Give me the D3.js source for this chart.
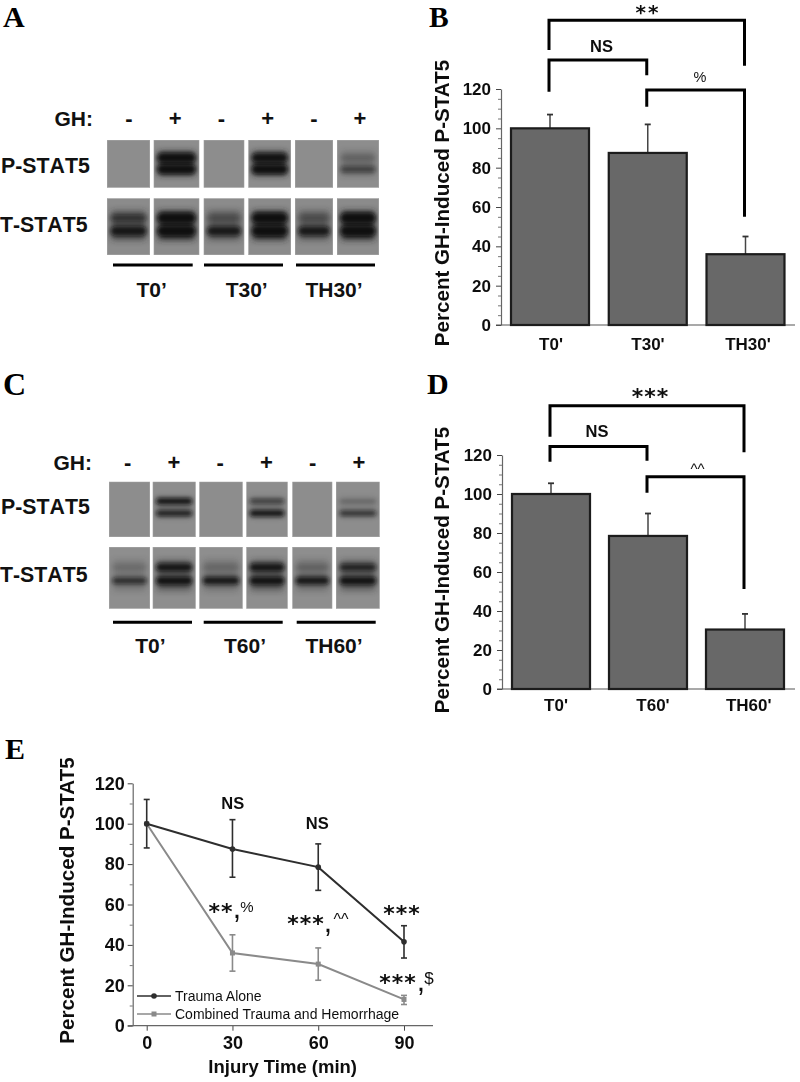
<!DOCTYPE html>
<html>
<head>
<meta charset="utf-8">
<script src="https://cdnjs.cloudflare.com/ajax/libs/d3/7.8.5/d3.min.js"></script>
<style>
  body { margin: 0; background: #fff; }
  text { font-family: "Liberation Sans", Arial, sans-serif; fill: #111; }
  .letter { font-family: "Liberation Serif", serif; font-weight: bold; fill: #000; }
  .star { font-family: "DejaVu Sans", sans-serif; font-weight: bold; }
  .nokern { font-kerning: none; }
</style>
</head>
<body>
<svg id="fig" width="800" height="1082"></svg>
<script>
// bar panels
const groupsB = ["T0'", "T30'", "TH30'"];
const valuesB = [100, 87.5, 36];
const upperB = [107, 102, 45];
const groupsD = ["T0'", "T60'", "TH60'"];
const valuesD = [100, 78.5, 30.5];
const upperD = [105.5, 90, 38.5];
const yTicks = [0, 20, 40, 60, 80, 100, 120];

// line panel
const minutes = [0, 30, 60, 90];
const traumaAlone = [100, 87.5, 78.5, 41.5];
const traumaUpper = [112, 102, 90, 49.5];
const traumaLower = [88, 73.5, 67, 33.5];
const combined = [100, 36, 30.5, 13];
const combinedUpper = [100, 45, 38.5, 15];
const combinedLower = [100, 27, 22.5, 10.5];

// blot band darkness per lane, 0 to 1
const laneSigns = ["-", "+", "-", "+", "-", "+"];
const pUpperA = [0, 1, 0, 0.95, 0, 0.18];
const pLowerA = [0, 1, 0, 1, 0, 0.55];
const tUpperA = [0.5, 1, 0.25, 1, 0.25, 1];
const tLowerA = [0.9, 1, 0.9, 1, 0.9, 1];
const pUpperC = [0, 1, 0, 0.65, 0, 0.3];
const pLowerC = [0, 0.9, 0, 1, 0, 0.75];
const tUpperC = [0.15, 0.95, 0.15, 0.95, 0.2, 0.8];
const tLowerC = [0.75, 1, 0.95, 1, 0.95, 1];
const groupsA = ["T0’", "T30’", "TH30’"];
const groupsC = ["T0’", "T60’", "TH60’"];

const svg = d3.select("#fig");
const defs = svg.append("defs");
defs.append("filter").attr("id", "soft").attr("x", "-30%").attr("width", "160%")
  .attr("y", "-150%").attr("height", "400%")
  .append("feGaussianBlur").attr("stdDeviation", 1.9);
defs.append("filter").attr("id", "smear").attr("x", "-30%").attr("width", "160%")
  .attr("y", "-80%").attr("height", "260%")
  .append("feGaussianBlur").attr("stdDeviation", 3);
// the source is a soft scan, everything gets a little of it
defs.append("filter").attr("id", "scan").attr("filterUnits", "userSpaceOnUse")
  .attr("x", 0).attr("y", 0).attr("width", 800).attr("height", 1082)
  .append("feGaussianBlur").attr("stdDeviation", 0.35);

function letter(t, x, y, size) {
  svg.append("text").attr("class", "letter").attr("x", x).attr("y", y).attr("font-size", size).text(t);
}
letter("A", 3, 27, 30);
letter("B", 429, 26.5, 29.5);
letter("C", 3, 394.5, 32);
letter("D", 427, 394, 30);
letter("E", 5, 759, 30);

function label(g, t, x, y, size, anchor, bold) {
  return g.append("text").attr("x", x).attr("y", y)
    .attr("text-anchor", anchor || "middle")
    .attr("font-size", size)
    .attr("font-weight", bold === false ? "normal" : "bold")
    .text(t);
}
function stars(g, t, x, y, size, sp) {
  return g.append("text").attr("class", "star").attr("x", x).attr("y", y)
    .attr("text-anchor", "middle").attr("font-size", size)
    .attr("letter-spacing", sp).text(t);
}

// ---- western blots ----
function blot(cfg) {
  const g = svg.append("g");
  const laneIdx = laneSigns.map((d, i) => i);
  const x0 = d3.scaleOrdinal().domain(laneIdx).range(cfg.left);
  const x1 = d3.scaleOrdinal().domain(laneIdx).range(cfg.right);
  const signX = d3.scalePoint().domain(laneIdx).range(cfg.signRange);

  label(g, "GH:", cfg.ghX, cfg.ghY, 21, "end");
  g.selectAll(".sign").data(laneSigns).enter().append("text")
    .attr("x", (d, i) => signX(i))
    .attr("y", cfg.ghY)
    .attr("text-anchor", "middle")
    .attr("font-size", 22).attr("font-weight", "bold")
    .text((d) => d);

  cfg.rows.forEach((row, r) => {
    label(g, row.name, row.labelX, row.labelY, 21.3, "start").attr("class", "nokern");
    laneSigns.forEach((s, i) => {
      const clipId = `clip${cfg.id}${r}${i}`;
      const w = x1(i) - x0(i);
      defs.append("clipPath").attr("id", clipId).append("rect")
        .attr("x", x0(i)).attr("y", row.top)
        .attr("width", w).attr("height", row.bottom - row.top);
      const lane = g.append("g").attr("clip-path", `url(#${clipId})`);
      lane.append("rect")
        .attr("x", x0(i)).attr("y", row.top)
        .attr("width", w).attr("height", row.bottom - row.top)
        .attr("fill", row.bg);

      // haze round the two bands, stronger on the loaded lanes
      const haze = (row.upper[i] + row.lower[i]) / 2;
      if (haze) {
        lane.append("rect")
          .attr("x", x0(i) + w * 0.1).attr("width", w * 0.8)
          .attr("y", row.upperY - row.hazeUp)
          .attr("height", row.lowerY - row.upperY + row.hazeUp + row.hazeDown)
          .attr("fill", "#222")
          .attr("opacity", haze * row.hazeK)
          .attr("filter", "url(#smear)");
      }
      [[row.upper[i], row.upperY], [row.lower[i], row.lowerY]].forEach(([dark, y]) => {
        if (!dark) return;
        const h = 2 + dark * row.thick;
        lane.append("rect")
          .attr("x", x0(i) + w * 0.08).attr("width", w * 0.84)
          .attr("y", y - h / 2).attr("height", h)
          .attr("rx", h / 2)
          .attr("fill", "#111")
          .attr("opacity", dark * 0.95)
          .attr("filter", "url(#soft)");
      });
      lane.append("rect")
        .attr("x", x0(i)).attr("y", row.top)
        .attr("width", w).attr("height", row.bottom - row.top)
        .attr("fill", "none").attr("stroke", "#aaa").attr("stroke-width", 1);
    });
  });

  cfg.lines.forEach((l, i) => {
    g.append("line").attr("x1", l[0]).attr("x2", l[1])
      .attr("y1", cfg.lineY).attr("y2", cfg.lineY)
      .attr("stroke", "#000").attr("stroke-width", 3);
    label(g, cfg.groups[i], cfg.groupX[i], cfg.groupY, 21);
  });
}

blot({
  id: "a", ghX: 93, ghY: 126, signRange: [129, 360],
  left: [107, 153.7, 203.7, 248.3, 295, 337],
  right: [150, 199.3, 244.3, 291, 333, 379],
  rows: [
    { name: "P-STAT5", labelX: 1, labelY: 172.7, top: 140, bottom: 187.7, upperY: 157.7, lowerY: 169.3, upper: pUpperA, lower: pLowerA, thick: 7, hazeUp: 6, hazeDown: 6, hazeK: 0.8, bg: "#8d8d8d" },
    { name: "T-STAT5", labelX: 0, labelY: 231.7, top: 198.3, bottom: 255, upperY: 218, lowerY: 231, upper: tUpperA, lower: tLowerA, thick: 8, hazeUp: 7, hazeDown: 9, hazeK: 0.85, bg: "#8b8b8b" }
  ],
  lines: [[113, 192.7], [204, 283], [296, 375]],
  lineY: 265, groups: groupsA, groupX: [151.7, 246.7, 334], groupY: 297.3
});

blot({
  id: "c", ghX: 92, ghY: 470, signRange: [127.7, 359],
  left: [109, 152.7, 199.3, 246.3, 292.3, 336],
  right: [150, 195.7, 242.7, 287.7, 332.3, 379.7],
  rows: [
    { name: "P-STAT5", labelX: 1, labelY: 514.3, top: 481.7, bottom: 537, upperY: 501.3, lowerY: 513.3, upper: pUpperC, lower: pLowerC, thick: 4.5, hazeUp: 4, hazeDown: 4, hazeK: 0.2, bg: "#8d8d8d" },
    { name: "T-STAT5", labelX: 0, labelY: 581.7, top: 547, bottom: 608.7, upperY: 567.3, lowerY: 580.7, upper: tUpperC, lower: tLowerC, thick: 6, hazeUp: 7, hazeDown: 10, hazeK: 0.5, bg: "#8e8e8e" }
  ],
  lines: [[113, 192], [203.7, 282.7], [296.7, 375.7]],
  lineY: 622.3, groups: groupsC, groupX: [150.3, 245, 334], groupY: 652.7
});

// ---- bar panels ----
function barPanel(cfg) {
  const g = svg.append("g").attr("filter", "url(#scan)");
  const x = d3.scalePoint().domain(cfg.groups).range(cfg.centers);
  const y = d3.scaleLinear().domain([0, 120]).range([cfg.y0, cfg.y120]);
  const barW = 78;

  g.append("g").attr("transform", `translate(${cfg.axisX},0)`)
    .call(d3.axisLeft(y).tickValues(d3.range(0, 121, 5).filter((d) => d % 20)).tickSize(3).tickFormat(""))
    .call((a) => a.selectAll(".tick line").attr("stroke", "#777"))
    .call((a) => a.select(".domain").remove());
  g.append("g").attr("transform", `translate(${cfg.axisX},0)`)
    .call(d3.axisLeft(y).tickValues(yTicks).tickSize(5).tickSizeOuter(0).tickPadding(5))
    .call((a) => a.select(".domain").attr("stroke", "#666").attr("stroke-width", 1.2))
    .call((a) => a.selectAll(".tick line").attr("stroke", "#444"))
    .call((a) => a.selectAll("text").attr("font-size", 17).attr("font-weight", "bold")
      .attr("font-family", "Liberation Sans").attr("fill", "#222"));

  g.append("line").attr("x1", cfg.axisX - 5).attr("x2", cfg.axisEnd)
    .attr("y1", y(0)).attr("y2", y(0)).attr("stroke", "#555").attr("stroke-width", 1.2);

  cfg.values.forEach((v, i) => {
    const cx = x(cfg.groups[i]);
    g.append("line").attr("x1", cx).attr("x2", cx).attr("y1", y(v)).attr("y2", y(cfg.upper[i]))
      .attr("stroke", "#444").attr("stroke-width", 1.5);
    g.append("line").attr("x1", cx - 3).attr("x2", cx + 3).attr("y1", y(cfg.upper[i])).attr("y2", y(cfg.upper[i]))
      .attr("stroke", "#333").attr("stroke-width", 1.8);
  });
  g.selectAll(".bar").data(cfg.values).enter().append("rect")
    .attr("x", (d, i) => x(cfg.groups[i]) - barW / 2)
    .attr("y", (d) => y(d))
    .attr("width", barW)
    .attr("height", (d) => y(0) - y(d))
    .attr("fill", "#676767").attr("stroke", "#1c1c1c").attr("stroke-width", 2.2);

  // category labels sit a little off the bar centres in the original
  g.selectAll(".cat").data(cfg.groups).enter().append("text")
    .attr("x", (d, i) => cfg.catX[i]).attr("y", cfg.catY)
    .attr("text-anchor", "middle").attr("font-size", 17).attr("font-weight", "bold").attr("fill", "#222")
    .text((d) => d);

  g.append("text").attr("transform", `translate(${cfg.titleX},${cfg.titleY}) rotate(-90)`)
    .attr("text-anchor", "middle").attr("font-size", 20.6).attr("font-weight", "bold").attr("fill", "#222")
    .text("Percent GH-Induced P-STAT5");

  // brackets in value units, from group to group
  cfg.brackets.forEach((b) => {
    const path = d3.path();
    const xa = x(cfg.groups[b.from]) - 1, xb = x(cfg.groups[b.to]) - 1;
    path.moveTo(xa, y(b.leftEnd));
    path.lineTo(xa, y(b.level));
    path.lineTo(xb, y(b.level));
    path.lineTo(xb, y(b.rightEnd));
    g.append("path").attr("d", path.toString()).attr("fill", "none").attr("stroke", "#000").attr("stroke-width", 3);
  });
  cfg.notes.forEach((n) => label(g, n.t, n.x, n.y, n.size, "middle", n.bold));
  cfg.stars.forEach((n) => stars(g, n.t, n.x, n.y, n.size, n.sp));
}

barPanel({
  groups: groupsB, values: valuesB, upper: upperB,
  centers: [550, 745.5], axisX: 501, axisEnd: 795, y0: 325, y120: 89,
  catX: [551, 648, 748], catY: 350, titleX: 449, titleY: 203,
  brackets: [
    { from: 0, to: 2, level: 155, leftEnd: 139.8, rightEnd: 131.8 },
    { from: 0, to: 1, level: 134.7, leftEnd: 118.6, rightEnd: 127 },
    { from: 1, to: 2, level: 119.5, leftEnd: 111, rightEnd: 55 }
  ],
  notes: [
    { t: "NS", x: 601.5, y: 52, size: 16.5 },
    { t: "%", x: 700, y: 81.5, size: 14.5, bold: false }
  ],
  stars: [{ t: "**", x: 648, y: 19, size: 20, sp: 2 }]
});

barPanel({
  groups: groupsD, values: valuesD, upper: upperD,
  centers: [551, 745], axisX: 502, axisEnd: 795, y0: 689, y120: 455,
  catX: [556, 653, 748.7], catY: 711, titleX: 449, titleY: 570,
  brackets: [
    { from: 0, to: 2, level: 145.3, leftEnd: 129.4, rightEnd: 121.4 },
    { from: 0, to: 1, level: 124.3, leftEnd: 116.6, rightEnd: 117 },
    { from: 1, to: 2, level: 108.9, leftEnd: 100.7, rightEnd: 51.3 }
  ],
  notes: [
    { t: "NS", x: 597, y: 436.5, size: 16.5 },
    { t: "^^", x: 697.5, y: 474, size: 15, bold: false }
  ],
  stars: [{ t: "***", x: 650.5, y: 403.5, size: 22, sp: 1 }]
});

// ---- line panel ----
const gE = svg.append("g").attr("filter", "url(#scan)");
const xE = d3.scaleLinear().domain([0, 90]).range([146.7, 404]);
const yE = d3.scaleLinear().domain([0, 120]).range([1025.7, 783.3]);

gE.append("g").attr("transform", "translate(132.7,0)")
  .call(d3.axisLeft(yE).tickValues(d3.range(10, 120, 20)).tickSize(3).tickFormat(""))
  .call((a) => a.select(".domain").remove())
  .call((a) => a.selectAll(".tick line").attr("stroke", "#777"));
gE.append("g").attr("transform", "translate(132.7,0)")
  .call(d3.axisLeft(yE).tickValues(yTicks).tickSize(5).tickSizeOuter(0).tickPadding(3))
  .call((a) => a.select(".domain").attr("stroke", "#666").attr("stroke-width", 1.2))
  .call((a) => a.selectAll(".tick line").attr("stroke", "#444"))
  .call((a) => a.selectAll("text").attr("font-size", 18).attr("font-weight", "bold")
    .attr("font-family", "Liberation Sans").attr("fill", "#333"));
gE.append("g").attr("transform", "translate(0,1025.7)")
  .call(d3.axisBottom(xE).tickValues(minutes).tickSize(5).tickPadding(6))
  .call((a) => a.select(".domain").remove())
  .call((a) => a.selectAll(".tick line").attr("stroke", "#444"))
  .call((a) => a.selectAll("text").attr("font-size", 18).attr("font-weight", "bold")
    .attr("font-family", "Liberation Sans").attr("fill", "#333"));
gE.append("line").attr("x1", 127.7).attr("x2", 433).attr("y1", yE(0)).attr("y2", yE(0))
  .attr("stroke", "#666").attr("stroke-width", 1.2);

function marker(g, shape, cx, cy, color) {
  if (shape === "circle") {
    g.append("circle").attr("cx", cx).attr("cy", cy).attr("r", 2.8).attr("fill", color);
  } else {
    g.append("rect").attr("x", cx - 2.5).attr("y", cy - 2.5).attr("width", 5).attr("height", 5).attr("fill", color);
  }
}
function series(vals, up, low, color, shape) {
  const line = d3.line().x((d, i) => xE(minutes[i])).y((d) => yE(d));
  gE.append("path").attr("d", line(vals)).attr("fill", "none").attr("stroke", color).attr("stroke-width", 2);
  vals.forEach((v, i) => {
    const cx = xE(minutes[i]);
    if (up[i] !== low[i]) {
      gE.append("line").attr("x1", cx).attr("x2", cx).attr("y1", yE(up[i])).attr("y2", yE(low[i])).attr("stroke", color).attr("stroke-width", 1.6);
      [up[i], low[i]].forEach((e) => {
        gE.append("line").attr("x1", cx - 3).attr("x2", cx + 3).attr("y1", yE(e)).attr("y2", yE(e)).attr("stroke", color).attr("stroke-width", 1.6);
      });
    }
    marker(gE, shape, cx, yE(v), color);
  });
}
const darkLine = "#2e2e2e";
const greyLine = "#8a8a8a";
series(combined, combinedUpper, combinedLower, greyLine, "square");
series(traumaAlone, traumaUpper, traumaLower, darkLine, "circle");

gE.append("text").attr("transform", "translate(74,900.5) rotate(-90)")
  .attr("text-anchor", "middle").attr("font-size", 20.6).attr("font-weight", "bold").attr("fill", "#222")
  .text("Percent GH-Induced P-STAT5");
label(gE, "Injury Time (min)", 282.7, 1073, 18.5).attr("fill", "#333");

[["Trauma Alone", darkLine, "circle", 996, 1000.7, "#444"],
 ["Combined Trauma and Hemorrhage", greyLine, "square", 1014, 1019, "#666"]].forEach(([t, c, s, ly, ty, tc]) => {
  gE.append("line").attr("x1", 137).attr("x2", 171).attr("y1", ly).attr("y2", ly).attr("stroke", c).attr("stroke-width", 1.6);
  marker(gE, s, 154, ly, c);
  gE.append("text").attr("x", 175).attr("y", ty).attr("font-size", 14).attr("fill", tc).text(t);
});

[["NS", 232.7, 809], ["NS", 317.3, 829]].forEach(([t, x, y]) => label(gE, t, x, y, 16.5));
[["**", 221, 918.7], ["***", 306, 930.7], ["***", 402, 920.7], ["***", 398, 989.7]]
  .forEach(([t, x, y]) => stars(gE, t, x, y, 22, 1));
[[237, 918], [328, 932], [421, 991]].forEach(([x, y]) => label(gE, ",", x, y, 30, "middle", false));
[["%", 247, 912, 15], ["^^", 341, 925, 16], ["$", 429, 984, 17]]
  .forEach(([t, x, y, size]) => label(gE, t, x, y, size, "middle", false));
</script>
</body>
</html>
